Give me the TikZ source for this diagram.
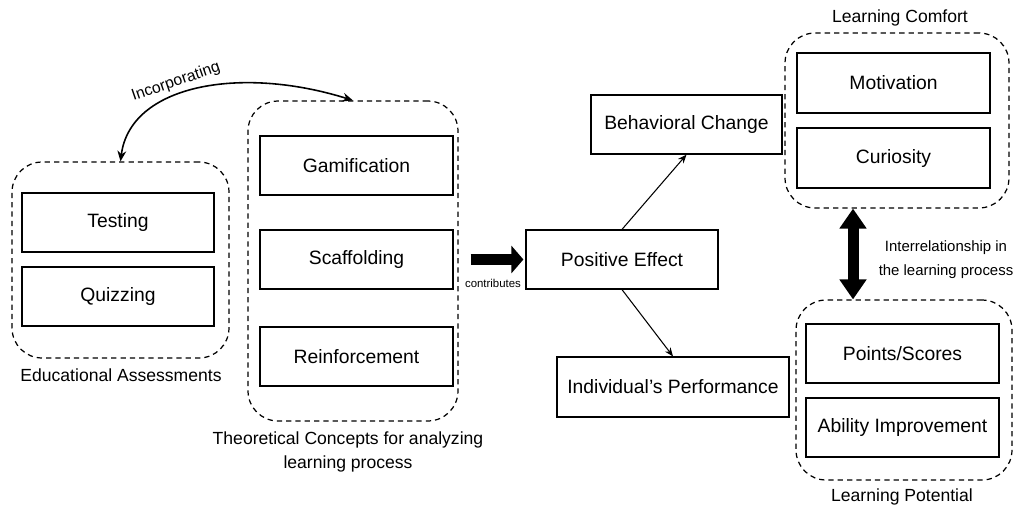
\documentclass[tikz,border=0pt]{standalone}
\usepackage{fontspec}
\setmainfont{Liberation Sans}
\usepackage{tikz}
\usetikzlibrary{arrows.meta, positioning, calc}

\begin{document}
\begin{tikzpicture}[x=0.02cm, y=-0.02cm,
    box/.style={draw=black, line width=0.7pt, minimum width=3.86cm, minimum height=1.18cm, font=\fontsize{11}{13}\selectfont},
    group/.style={draw=black, line width=0.7pt, dash pattern=on 3pt off 2.3pt, rounded corners=0.6cm},
    caption/.style={font=\fontsize{10}{13.6}\selectfont, align=center},
    fatarrow/.style={line width=0.22cm, -{Triangle[width=0.54cm, length=0.24cm]}},
    fatdouble/.style={line width=0.22cm, {Triangle[width=0.52cm, length=0.4cm]}-{Triangle[width=0.52cm, length=0.4cm]}},
    thinarrow/.style={line width=0.6pt, -{Stealth[length=5pt, width=4pt]}}]

    \useasboundingbox (0,0) rectangle (1014,518);

    % educational assessments
    \node[group, minimum width=4.34cm, minimum height=3.92cm] (ea) at (120.5,260) {};
    \node[box, minimum width=3.84cm] (testing) at (118,222.5) {Testing};
    \node[box, minimum width=3.84cm] (quizzing) at (118,296.5) {Quizzing};
    \node[caption] (ealabel) at (121,375) {Educational Assessments};

    % theoretical concepts
    \node[group, minimum width=4.2cm, minimum height=6.4cm] (tc) at (353,261) {};
    \node[box] (gamification) at (356.5,165.5) {Gamification};
    \node[box] (scaffolding) at (356.5,259.5) {Scaffolding};
    \node[box] (reinforcement) at (356.5,356.5) {Reinforcement};
    \node[caption] (tclabel) at (348,452) {Theoretical Concepts for analyzing\\learning process};

    % incorporating
    \draw[line width=0.9pt, {Stealth[length=6pt, width=5pt]}-{Stealth[length=6pt, width=5pt]}] (ea.north) .. controls (130,85) and (240,65) .. (tc.north);
    \node[font=\fontsize{9}{11}\selectfont, rotate=19] (incorp) at (176,82) {Incorporating};

    % effects
    \node[box, minimum width=3.84cm] (pe) at (622,259.5) {Positive Effect};
    \node[box, minimum width=3.82cm] (bc) at (686.5,124.5) {Behavioral Change};
    \node[box, minimum width=4.64cm, minimum height=1.2cm] (ip) at (673,387) {Individual’s Performance};

    \draw[fatarrow, shorten <=0.24cm, shorten >=0.04cm] (pe.west -| tc.east) -- (pe.west);
    \node[font=\fontsize{6.5}{8}\selectfont] (contrib) at (493,283) {contributes};
    \draw[thinarrow] (pe.north) -- (bc.south);
    \draw[thinarrow] (pe.south) -- (ip.north);

    % learning comfort
    \node[group, minimum width=4.48cm, minimum height=3.5cm] (lc) at (897,120.5) {};
    \node[box, minimum height=1.2cm] (motivation) at (893.5,83) {Motivation};
    \node[box, minimum height=1.2cm] (curiosity) at (893.5,158) {Curiosity};
    \node[caption] (lclabel) at (900,18) {Learning Comfort};

    % learning potential
    \node[group, minimum width=4.32cm, minimum height=3.6cm] (lp) at (904,390) {};
    \node[box] (points) at (902.5,353.5) {Points/Scores};
    \node[box] (ability) at (902.5,427.5) {Ability Improvement};
    \node[caption] (lplabel) at (902,497) {Learning Potential};

    % interrelationship
    \coordinate (link) at (853,253);
    \draw[fatdouble] (link |- lc.south) -- (link |- lp.north);
    \node[font=\fontsize{8.5}{13.6}\selectfont, align=center] (rel) at (946,260) {Interrelationship in\\the learning process};

\end{tikzpicture}
\end{document}
